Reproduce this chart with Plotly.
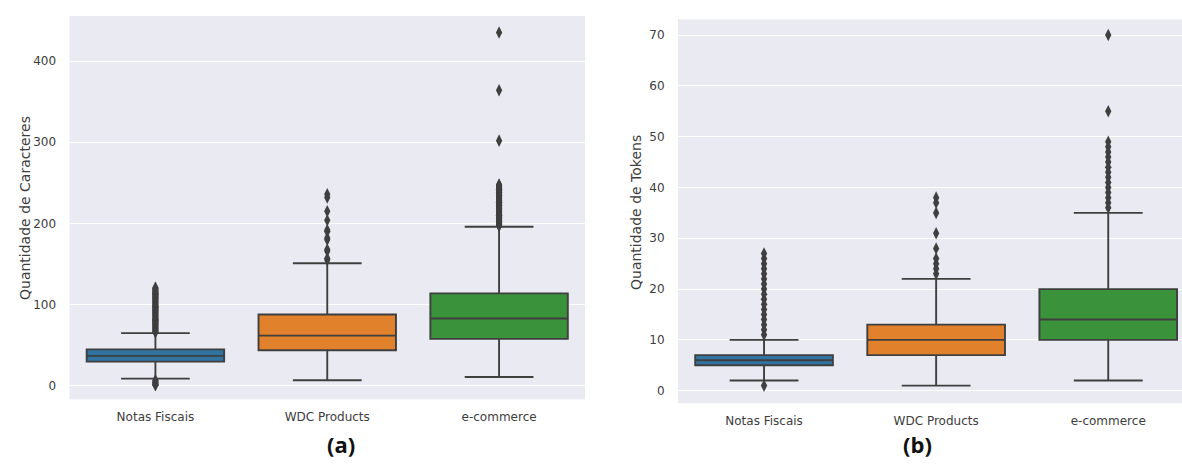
import plotly.graph_objects as go

W, H = 1182, 473

categories = ["Notas Fiscais", "WDC Products", "e-commerce"]
box_colors = ["#3274a1", "#e1812c", "#3a923a"]

# (a) Quantidade de Caracteres
chars_q1 = [30, 44, 58]
chars_median = [37, 62, 83]
chars_q3 = [45, 88, 114]
chars_lower = [9, 7, 11]
chars_upper = [65, 151, 196]
chars_outliers = [
    [1, 2, 3, 4, 5, 6, 7,
     66, 67, 68, 69, 70, 71, 72, 73, 74, 75, 76, 77, 78, 79, 80, 81, 82, 83, 84, 85,
     86, 87, 88, 89, 90, 91, 92, 93, 94, 95, 96, 97, 98, 99, 100, 101, 102, 103, 104,
     105, 106, 107, 108, 109, 110, 111, 112, 113, 114, 115, 116, 117, 118, 119, 120, 121],
    [155, 157, 166, 168, 180, 182, 190, 192, 204, 215, 232, 236],
    [197, 198, 199, 200, 201, 202, 203, 204, 205, 206, 207, 208, 209, 210, 211, 212,
     213, 214, 215, 216, 217, 218, 219, 220, 221, 222, 223, 224, 225, 226, 227, 228,
     229, 230, 231, 232, 233, 234, 235, 236, 237, 238, 239, 240, 241, 242, 243, 244,
     245, 246, 247, 248, 302, 364, 435],
]

# (b) Quantidade de Tokens
tok_q1 = [5, 7, 10]
tok_median = [6, 10, 14]
tok_q3 = [7, 13, 20]
tok_lower = [2, 1, 2]
tok_upper = [10, 22, 35]
tok_outliers = [
    [1, 11, 12, 13, 14, 15, 16, 17, 18, 19, 20, 21, 22, 23, 24, 25, 26, 27],
    [23, 24, 25, 26, 28, 31, 35, 37, 38],
    [36, 37, 38, 39, 40, 41, 42, 43, 44, 45, 46, 47, 48, 49, 55, 70],
]

chars_ticks = [0, 100, 200, 300, 400]
tok_ticks = [0, 10, 20, 30, 40, 50, 60, 70]

LINE = "#3f3f3f"
TXT = "#3d3d3d"
FONT = "DejaVu Sans"

fig = go.Figure()


def add_panel(q1, med, q3, lo, hi, outl, xa, ya):
    for i, cat in enumerate(categories):
        fig.add_trace(go.Box(
            x=[cat], q1=[q1[i]], median=[med[i]], q3=[q3[i]],
            lowerfence=[lo[i]], upperfence=[hi[i]],
            fillcolor=box_colors[i], line=dict(color=LINE, width=1.9),
            width=0.8, whiskerwidth=0.5, boxpoints=False,
            xaxis=xa, yaxis=ya, showlegend=False, hoverinfo="skip",
        ))
        fig.add_trace(go.Scatter(
            x=[cat] * len(outl[i]), y=outl[i], mode="markers",
            marker=dict(symbol="diamond-tall", size=9, color=LINE,
                        line=dict(width=0)),
            xaxis=xa, yaxis=ya, showlegend=False, hoverinfo="skip",
        ))


add_panel(chars_q1, chars_median, chars_q3, chars_lower, chars_upper,
          chars_outliers, "x", "y")
add_panel(tok_q1, tok_median, tok_q3, tok_lower, tok_upper,
          tok_outliers, "x2", "y2")

common_x = dict(type="category", showgrid=False, zeroline=False, showline=False,
                ticks="outside", ticklen=6, tickcolor="rgba(0,0,0,0)",
                tickfont=dict(family=FONT, size=12, color=TXT),
                categoryorder="array", categoryarray=categories)
common_y = dict(showgrid=True, gridcolor="white", gridwidth=1.3, zeroline=False,
                showline=False, ticks="outside", ticklen=10,
                tickcolor="rgba(0,0,0,0)",
                tickfont=dict(family=FONT, size=12, color=TXT))

fig.update_layout(
    width=W, height=H,
    margin=dict(l=0, r=0, t=0, b=0),
    paper_bgcolor="white", plot_bgcolor="#eaeaf2",
    xaxis=dict(domain=[69.5 / W, 585 / W], range=[-0.5, 2.5],
               anchor="y", **common_x),
    yaxis=dict(domain=[1 - 399.3 / H, 1 - 16 / H], range=[-16.4, 455.4],
               tickvals=chars_ticks, anchor="x", **common_y),
    xaxis2=dict(domain=[678 / W, 1.0], range=[-0.5, 2.4286],
                anchor="y2", **common_x),
    yaxis2=dict(domain=[1 - 403.3 / H, 1 - 19.3 / H], range=[-2.48, 73.1],
                tickvals=tok_ticks, anchor="x2", **common_y),
    annotations=[
        dict(text="Quantidade de Caracteres", x=15 / W, y=1 - 208 / H,
             xref="paper", yref="paper", showarrow=False, textangle=-90,
             font=dict(family=FONT, size=14, color=TXT)),
        dict(text="Quantidade de Tokens", x=636 / W, y=1 - 212 / H,
             xref="paper", yref="paper", showarrow=False, textangle=-90,
             font=dict(family=FONT, size=14, color=TXT)),
        dict(text="<b>(a)</b>", x=325 / W, y=1 - 461 / H,
             xref="paper", yref="paper", showarrow=False,
             font=dict(family="Open Sans", size=22, color="#111111")),
        dict(text="<b>(b)</b>", x=934 / W, y=1 - 461 / H,
             xref="paper", yref="paper", showarrow=False,
             font=dict(family="Open Sans", size=22, color="#111111")),
    ],
)

fig.write_html("out.html")
